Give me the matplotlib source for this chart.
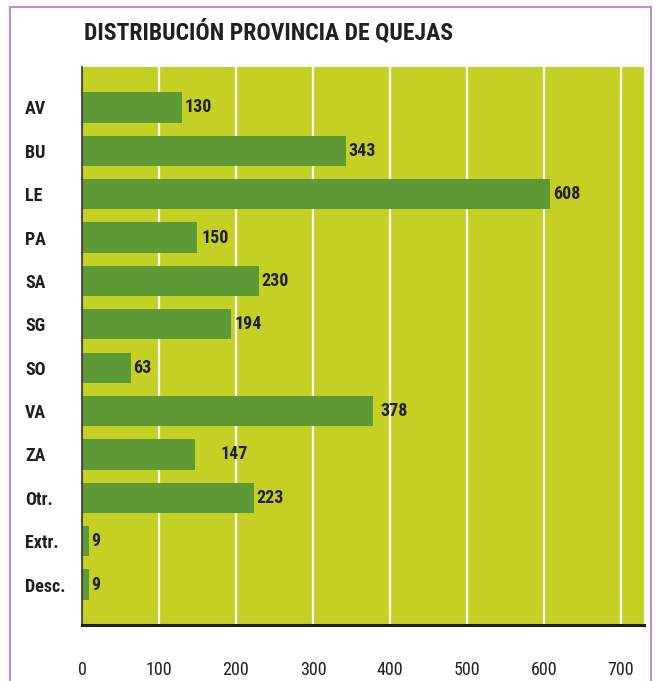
import matplotlib
matplotlib.use("Agg")
import matplotlib.pyplot as plt
from matplotlib.patches import Rectangle

provinces = ["AV", "BU", "LE", "PA", "SA", "SG", "SO", "VA", "ZA", "Otr.", "Extr.", "Desc."]
complaints = [130, 343, 608, 150, 230, 194, 63, 378, 147, 223, 9, 9]
x_ticks = [0, 100, 200, 300, 400, 500, 600, 700]
title = "DISTRIBUCIÓN PROVINCIA DE QUEJAS"
label_offsets_pt = [2, 2, 2, 3, 2, 2, 2, 5, 18, 2, 2, 2]

plt.rcParams["font.family"] = ["Roboto Condensed", "DejaVu Sans"]

BG = "#C4D124"
BAR = "#5D9934"
INK = "#231F20"

fig = plt.figure(figsize=(6.55, 6.81), dpi=100)
ax = fig.add_axes([82 / 655, 56 / 681, (644 - 82) / 655, (614 - 56) / 681])
ax.set_facecolor(BG)

ypos = list(range(len(provinces)))
ax.barh(ypos, complaints, height=0.70, color=BAR, zorder=3)
for y, v, off in zip(ypos, complaints, label_offsets_pt):
    ax.annotate(str(v), (v, y), xytext=(off, 0), textcoords="offset points",
                ha="left", va="center", fontsize=13, fontweight="bold",
                color=INK, zorder=4)

ax.set_xlim(0, 730)
ax.set_ylim(len(provinces) - 1 + 0.93, -0.93)
ax.set_xticks(x_ticks)
ax.set_xticklabels([str(t) for t in x_ticks], fontsize=13, color=INK)
ax.set_yticks(ypos)
ax.set_yticklabels(provinces, fontsize=13, fontweight="bold", color=INK, ha="left")
ax.tick_params(axis="x", length=0, pad=26)
ax.tick_params(axis="y", length=0, pad=41)

for t in x_ticks[1:]:
    ax.axvline(t, color="white", lw=1.6, zorder=1)

for s in ["top", "right"]:
    ax.spines[s].set_visible(False)
ax.spines["left"].set_color("#333333")
ax.spines["left"].set_linewidth(1.2)
ax.spines["bottom"].set_color(INK)
ax.spines["bottom"].set_linewidth(2.2)
ax.spines["left"].set_zorder(5)
ax.spines["bottom"].set_zorder(5)

fig.text(84 / 655, 1 - 32 / 681, title, fontsize=17, fontweight="bold",
         color=INK, ha="left", va="center")

border = Rectangle((10 / 655, -0.05), (651 - 10) / 655, (1 - 7 / 681) + 0.05,
                   transform=fig.transFigure, fill=False, edgecolor="#C98BCF",
                   linewidth=1.5, clip_on=False)
fig.patches.append(border)

fig.savefig("out.png", dpi=100, facecolor="white")
